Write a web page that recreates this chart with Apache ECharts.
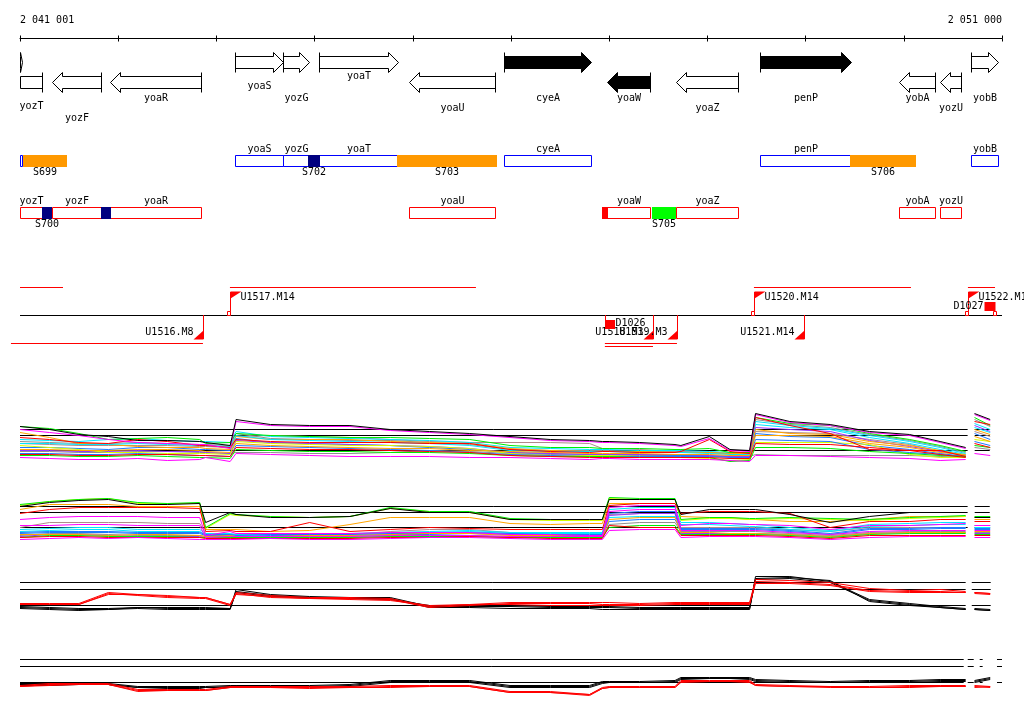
<!DOCTYPE html>
<html><head><meta charset="utf-8">
<script src="https://cdn.jsdelivr.net/npm/echarts@6.0.0/dist/echarts.min.js"></script>
<style>html,body{margin:0;padding:0;background:#fff}#c{width:1024px;height:714px}</style>
</head><body><div id="c"></div>
<script>
// ---------------- data ----------------
const viewMin = 2041000, viewMax = 2051000, rulerStep = 1000;
const rulerLabels = ['2 041 001', '2 051 000'];

// genes (arrows + boxes)
const geneNames  = ['', 'yozT', 'yozF', 'yoaR', 'yoaS', 'yozG', 'yoaT', 'yoaU', 'cyeA', 'yoaW', 'yoaZ', 'penP', 'yobA', 'yozU', 'yobB'];
const geneStart  = [2040900, 2040800, 2041326, 2041916, 2043189, 2043678, 2044045, 2044961, 2045929, 2046975, 2047680, 2048535, 2049951, 2050368, 2050684];
const geneEnd    = [2041020, 2041224, 2041825, 2042843, 2043678, 2043943, 2044849, 2045837, 2046815, 2047415, 2048311, 2049462, 2050317, 2050582, 2050959];
const geneStrand = [1, -1, -1, -1, 1, 1, 1, -1, 1, -1, -1, 1, -1, -1, 1];
const geneHighlighted = [0, 0, 0, 0, 0, 0, 0, 0, 1, 1, 0, 1, 0, 0, 0];

// segment features
const featNames  = ['S699', 'S700', '', 'S702', 'S703', '', 'S705', 'S706'];
const featStart  = [2041031, 2041224, 2041825, 2043932, 2044838, 2046925, 2047434, 2049449];
const featEnd    = [2041478, 2041326, 2041926, 2044054, 2045856, 2046985, 2047678, 2050121];
const featStrand = [1, -1, -1, 1, 1, -1, -1, 1];
const featClass  = ['A', 'B', 'B', 'B', 'A', 'C', 'D', 'A'];

// transcription units
const spanStart  = [2041000, 2043138, 2048474, 2050653, 2040908, 2046956, 2046956];
const spanEnd    = [2041438, 2045643, 2050073, 2050929, 2042863, 2047690, 2047446];
const spanStrand = [1, 1, 1, 1, -1, -1, -1];
const promNames  = ['U1516.M8', 'U1517.M14', 'U1518.M3', 'U1519.M3', 'U1520.M14', 'U1521.M14', 'U1522.M14'];
const promPos    = [2042863, 2043138, 2047446, 2047690, 2048474, 2048983, 2050653];
const promStrand = [-1, 1, -1, -1, 1, -1, 1];
const termNames  = ['D1026', 'D1027'];
const termPos    = [2046956, 2050929];
const termStrand = [-1, 1];

// expression profiles (probe positions; null = no data)
const probePos = [2041000,2041300,2041600,2041900,2042200,2042500,2042830,2042890,2043140,2043200,2043550,2043950,2044360,2044770,2045170,2045580,2045990,2046400,2046800,2046930,2047000,2047310,2047670,2047730,2048020,2048230,2048430,2048490,2048840,2049250,2049650,2050060,2050370,2050630,2050680,2050720,2050880];

// panel 1 (forward strand, many conditions)
const p1Ref = [40, 34, 19];
const p1Black    = [43,40,35,33,29,29,28,27,24,50,45,44,44,40,38,36,33,30,29,28,28,27,25,24,33,20,19,56,48,45,38,35,28,22,null,56,50];
const p1Magenta  = [40,37,34,30,27,26,25,25,21,48,44,43,43,39,37,35,32,29,28,27,27,26,24,23,31,19,18,55,47,44,37,34,27,21,null,55,49];
const p1Green    = [43,41,36,30,31,32,30,26,27,36,34,33,32,32,31,30,24,22,22,21,21,21,20,20,21,17,17,52,46,44,36,30,24,18,null,52,44];
const p1Cyan     = [30,29,28,30,31,29,28,28,27,38,33,32,31,30,29,27,22,21,20,20,20,19,19,19,18,17,16,45,42,40,32,26,20,15,null,46,40];
const p1Orange   = [37,32,26,25,23,22,22,21,20,33,30,30,30,28,27,26,21,19,18,18,18,18,17,17,17,16,16,40,36,35,28,24,19,14,null,40,35];
const p1Red      = [32,30,27,26,30,28,24,24,22,30,28,27,27,27,26,26,20,18,17,18,18,17,17,18,30,18,16,52,44,36,20,19,19,13,null,48,45];
const p1Blue     = [22,22,21,20,22,22,20,20,19,31,27,26,25,24,22,20,17,16,15,15,15,15,14,14,14,13,13,36,33,32,24,20,16,13,null,36,30];
const p1Gray     = [18,18,17,17,18,18,17,17,16,17,17,16,16,17,19,18,16,15,14,14,14,14,14,14,13,13,13,15,14,14,14,14,13,12,null,22,20];
const p1Yellow   = [24,22,20,17,17,16,16,16,15,28,26,25,24,24,23,21,16,14,14,14,14,13,13,12,11,9,10,27,27,27,25,15,12,12,null,30,28];
const p1Brown    = [26,25,24,24,24,24,23,23,22,33,34,33,32,30,28,27,27,27,26,21,21,20,18,18,17,16,15,38,37,36,30,25,18,14,null,38,33];
const p1Magenta2 = [12,11,10,10,11,9,10,12,8,16,15,14,13,13,13,12,12,11,10,11,11,10,10,10,10,9,8,14,14,13,12,11,9,10,null,16,14];
const p1Green2   = [14,14,13,13,14,13,12,12,11,20,19,18,18,17,17,16,14,13,13,13,13,12,12,12,12,8,9,22,22,21,18,16,14,13,null,24,22];
const p1Blue2    = [16,16,15,15,16,15,14,14,13,24,23,22,21,20,19,17,15,14,13,13,13,13,13,13,13,12,12,30,29,28,20,17,15,13,null,28,24];
const p1Orange2  = [20,20,19,19,20,20,19,18,17,26,24,23,22,21,21,19,18,17,16,16,16,16,15,15,15,14,14,34,34,33,26,22,17,15,null,33,28];
const p1Cyan2    = [26,26,25,25,26,25,24,24,23,34,30,29,28,27,26,24,19,18,18,18,18,17,17,17,16,15,15,48,44,41,34,28,22,16,null,42,37];
const p1Red2     = [15,15,14,14,15,15,14,14,13,22,21,20,20,19,18,17,14,13,12,12,12,12,12,12,12,11,11,26,25,25,22,19,15,12,null,26,22];
const p1Purple   = [19,19,18,18,19,18,18,17,16,29,27,26,25,24,23,21,17,16,15,15,15,15,15,15,14,13,13,42,40,38,29,23,18,14,null,44,38];
const p1Gray2    = [28,27,26,26,27,26,25,25,24,36,31,30,29,29,27,25,20,19,19,19,19,18,18,18,17,16,16,50,45,42,35,29,23,17,null,50,43];

// panel 2 (reverse strand, many conditions)
const p2Ref = [43, 37, 22];
const p2Black    = [43,47,49,50,45,45,46,27,37,35,32,32,33,41,37,37,30,30,30,30,50,50,50,35,40,40,40,40,35,27,33,37,37,37,null,32,32];
const p2Green    = [45,48,50,51,47,46,47,22,36,35,33,32,33,42,38,38,31,30,30,30,52,51,51,30,32,32,31,31,32,31,30,32,33,34,null,33,33];
const p2Yellow   = [44,48,50,51,46,46,46,21,35,34,33,32,33,41,38,37,30,29,29,29,51,50,50,29,31,31,30,30,31,30,29,31,32,33,null,32,32];
const p2Orange   = [40,45,45,45,43,43,43,20,20,20,18,19,25,32,32,32,26,25,26,26,46,46,46,33,32,32,30,30,28,28,30,33,33,33,null,30,30];
const p2Red      = [36,40,42,42,42,42,41,18,19,18,18,27,18,20,22,21,20,20,20,20,44,46,46,36,38,38,38,38,36,22,28,28,30,30,null,28,28];
const p2Magenta  = [30,32,33,33,33,32,32,14,18,16,16,16,16,17,17,17,15,15,14,14,38,40,40,24,26,26,25,25,24,20,24,24,25,26,null,24,24];
const p2Brown    = [22,27,27,27,27,26,26,16,15,15,15,15,15,18,20,20,17,17,16,16,35,36,36,22,22,22,22,22,20,18,22,22,22,22,null,22,22];
const p2Cyan     = [18,19,20,20,18,18,18,15,15,14,15,15,15,16,17,18,16,16,16,16,32,33,33,25,25,24,23,23,20,18,23,24,25,25,null,22,22];
const p2Blue     = [16,17,17,17,16,16,16,14,14,13,14,14,14,15,15,16,15,14,14,14,28,30,30,20,20,20,20,20,18,15,20,20,21,21,null,20,20];
const p2Gray     = [14,16,16,15,14,14,14,13,13,13,13,13,13,14,14,14,13,13,13,13,25,27,27,18,18,18,18,18,16,14,17,18,18,18,null,17,17];
const p2Green2   = [12,14,14,13,13,13,12,12,12,12,12,12,12,13,13,13,12,12,12,12,22,24,24,15,15,15,15,15,14,12,15,16,16,16,null,15,15];
const p2Magenta2 = [10,11,12,11,12,11,10,10,10,10,11,10,10,11,12,12,11,10,10,10,19,20,20,12,13,13,13,13,12,10,12,13,13,13,null,12,12];
const p2Red2     = [12,13,13,12,12,12,12,11,11,11,11,11,11,12,12,13,12,11,11,11,24,22,22,14,14,14,14,14,13,11,14,14,14,14,null,14,14];
const p2Orange2  = [15,15,15,14,15,15,14,13,14,13,13,14,14,15,16,16,14,14,13,13,30,32,32,17,17,16,16,16,15,13,16,17,17,17,null,18,18];
const p2Cyan2    = [20,21,22,22,20,20,20,16,16,15,16,16,16,17,18,19,17,17,17,17,40,42,42,27,27,26,25,25,22,19,25,26,27,27,null,24,24];
const p2Purple   = [13,15,15,14,13,13,13,12,12,12,12,12,12,13,13,14,12,12,12,12,34,36,36,16,16,16,16,16,15,13,16,17,17,17,null,16,16];
const p2Magenta3 = [24,24,25,25,24,24,24,12,13,13,13,13,13,14,14,14,13,13,13,13,42,44,44,19,19,19,19,19,17,15,18,19,19,19,null,19,19];
const p2Blue2    = [17,18,18,18,17,17,17,15,15,14,15,15,15,16,16,17,16,15,15,15,36,38,38,21,21,21,21,21,19,16,21,21,22,22,null,21,21];

// panel 3 (forward strand, two groups)
const p3Ref = [37, 30, 14];
const p3Black1 = [13,12,11,11,12,12,12,12,11,30,25,23,22,22,13,13,13,12,12,12,12,11,11,11,11,11,11,43,43,38,20,16,13,11,null,11,10];
const p3Black2 = [11,10,9,10,11,10,10,10,10,28,24,22,21,21,12,12,11,11,11,10,10,10,10,10,10,10,10,41,42,39,18,14,12,10,null,10,9];
const p3Black3 = [12,11,10,10,12,11,11,11,11,27,23,22,21,20,14,14,14,13,13,13,13,12,12,12,12,12,12,40,41,37,19,15,12,10,null,10,9];
const p3Red1   = [16,16,16,27,25,23,22,22,15,27,24,22,22,21,13,15,17,17,17,17,17,16,17,17,17,17,17,40,39,37,31,29,30,28,null,27,26];
const p3Red2   = [15,15,15,26,24,22,21,21,14,25,23,21,21,20,12,14,16,16,16,15,15,15,16,16,16,16,16,38,37,35,29,28,28,27,null,26,25];
const p3Red3   = [16,15,15,25,25,24,22,22,15,26,22,21,20,19,14,15,15,14,14,14,14,14,15,15,15,15,15,36,36,34,28,27,27,27,null,27,26];

// panel 4 (reverse strand, two groups)
const p4Ref = [40, 33, 17];
const p4Black1 = [16,16,16,16,13,13,13,13,14,14,14,14,15,19,19,19,14,14,14,18,18,18,19,22,22,22,22,20,19,18,19,19,20,20,null,19,22];
const p4Black2 = [15,15,15,15,12,12,12,12,13,13,13,13,14,18,18,18,13,13,13,17,17,17,18,21,21,21,21,19,18,17,18,18,19,19,null,18,21];
const p4Black3 = [14,14,15,15,12,11,11,12,12,12,13,13,13,17,17,17,12,12,12,16,17,17,17,20,21,21,20,18,17,17,17,17,18,18,null,17,20];
const p4Red1   = [14,16,16,16,10,10,10,10,13,13,13,13,13,14,14,14,8,8,5,12,13,13,13,19,19,19,19,15,14,13,13,14,14,14,null,14,13];
const p4Red2   = [13,15,15,15,9,9,9,9,12,12,12,12,12,13,13,13,7,7,4,11,12,12,12,18,18,18,18,14,13,13,12,13,13,13,null,13,12];
const p4Red3   = [13,14,15,15,8,9,9,9,12,12,12,11,12,12,13,13,7,7,5,11,12,12,12,17,18,18,17,14,13,12,12,12,13,13,null,12,13];

// reference-line coverage per panel
const refSegP12 = [[2041000, 2050650], [2050722, 2050875]];
const refSegP3  = [[2041000, 2050630], [2050692, 2050885]];
const refSegP4  = [[2041000, 2050610], [2050651, 2050712], [2050773, 2050803], [2050949, 2051000]];

// ---------------- layout / style ----------------
const FONT = '10px "DejaVu Sans Mono", "Liberation Mono", monospace';
const geneLabelY = {yozT:106, yozF:118, yoaR:98, yoaS:86, yozG:98, yoaT:76, yoaU:108, cyeA:98, yoaW:98, yoaZ:108, penP:98, yobA:98, yozU:108, yobB:98};
const featColor = {A:'#ff9900', B:'#000080', C:'#ff0000', D:'#00ff00'};
const RED = '#ff0000';

function px(api, bp) { return api.coord([bp, 0])[0]; }
function crisp(v) { return Math.round(v) + 0.5; }
function txt(text, x, y, align) {
  return {type:'text', style:{text, x, y, font:FONT, fill:'#000', align:align||'center', verticalAlign:'middle', textAlign:align||'center', textVerticalAlign:'middle'}};
}

function renderGene(params, api) {
  const i = params.dataIndex;
  const L = px(api, viewMin), R = px(api, viewMax);
  const x0 = px(api, geneStart[i]), x1 = px(api, geneEnd[i]);
  const fwd = geneStrand[i] > 0;
  const c = fwd ? 62.5 : 82.5;
  const a = crisp(Math.max(x0, L)), b = crisp(Math.min(x1, R));
  const headIn = fwd ? x1 <= R : x0 >= L;
  const tailIn = fwd ? x0 >= L : x1 <= R;
  const bh = 6, hh = 10;
  let pts;
  if (!headIn) {
    pts = [[a, c - bh], [b, c - bh], [b, c + bh], [a, c + bh]];
  } else {
    const h = Math.min(10, b - a);
    if (fwd) pts = [[a,c-bh],[b-h,c-bh],[b-h,c-hh],[b,c],[b-h,c+hh],[b-h,c+bh],[a,c+bh]];
    else pts = [[b,c-bh],[a+h,c-bh],[a+h,c-hh],[a,c],[a+h,c+hh],[a+h,c+bh],[b,c+bh]];
  }
  const children = [{type:'polygon', shape:{points:pts}, style:{fill: geneHighlighted[i] ? '#000' : '#fff', stroke:'#000', lineWidth:1}}];
  if (tailIn) {
    const t = fwd ? a : b;
    children.push({type:'line', shape:{x1:t, y1:c - hh, x2:t, y2:c + hh}, style:{stroke:'#000', lineWidth:1}});
  }
  if (geneNames[i]) children.push(txt(geneNames[i], (a + b) / 2, geneLabelY[geneNames[i]]));
  return {type:'group', children};
}

function renderGeneBox(params, api) {
  const i = params.dataIndex;
  const L = px(api, viewMin), R = px(api, viewMax);
  const fwd = geneStrand[i] > 0;
  const a = crisp(Math.max(px(api, geneStart[i]), L)), b = crisp(Math.min(px(api, geneEnd[i]), R));
  const y = fwd ? 155.5 : 207.5;
  const children = [{type:'rect', shape:{x:a, y, width:b - a, height:11}, style:{fill:'#fff', stroke: fwd ? '#0000ff' : RED, lineWidth:1}}];
  if (geneNames[i]) children.push(txt(geneNames[i], (a + b) / 2, fwd ? 149 : 201));
  return {type:'group', children};
}

function renderFeature(params, api) {
  const i = params.dataIndex;
  const fwd = featStrand[i] > 0;
  const a = Math.round(px(api, featStart[i])), b = Math.round(px(api, featEnd[i]));
  const y = fwd ? 155 : 207;
  const children = [{type:'rect', shape:{x:a, y, width:b - a, height:12}, style:{fill: featColor[featClass[i]]}}];
  if (featNames[i]) children.push(txt(featNames[i], (a + b) / 2, fwd ? 172 : 224));
  return {type:'group', children};
}

// stacking level of TU spans
const spanLevel = (function () {
  const order = spanStart.map((s, i) => i).sort((p, q) => (spanStart[p] - spanStart[q]) || ((spanEnd[q] - spanStart[q]) - (spanEnd[p] - spanStart[p])));
  const lv = new Array(spanStart.length).fill(0);
  const used = {};
  order.forEach(i => {
    const key = spanStrand[i];
    used[key] = used[key] || [];
    let l = 0;
    while ((used[key][l] || []).some(j => spanStart[j] < spanEnd[i] && spanStart[i] < spanEnd[j])) l++;
    (used[key][l] = used[key][l] || []).push(i);
    lv[i] = l;
  });
  return lv;
})();

function renderSpan(params, api) {
  const i = params.dataIndex;
  const fwd = spanStrand[i] > 0;
  const y = fwd ? 287.5 : 343.5 + spanLevel[i] * 3;
  return {type:'line', shape:{x1:px(api, spanStart[i]), y1:y, x2:px(api, spanEnd[i]), y2:y}, style:{stroke:RED, lineWidth:1}};
}

function renderAxisLine(params, api) {
  return {type:'line', shape:{x1:px(api, viewMin), y1:315.5, x2:px(api, viewMax), y2:315.5}, style:{stroke:'#000', lineWidth:1}};
}

function renderPromoter(params, api) {
  const i = params.dataIndex;
  const x = crisp(px(api, promPos[i]));
  if (promStrand[i] > 0) {
    return {type:'group', children:[
      {type:'line', shape:{x1:x, y1:292, x2:x, y2:315}, style:{stroke:RED, lineWidth:1}},
      {type:'polygon', shape:{points:[[x, 291.5], [x + 11, 291.5], [x, 298.5]]}, style:{fill:RED}},
      {type:'rect', shape:{x:x - 3, y:311.5, width:3, height:4}, style:{fill:'#fff', stroke:RED, lineWidth:1}},
      txt(promNames[i], x + 10, 297.5, 'left')
    ]};
  }
  return {type:'group', children:[
    {type:'line', shape:{x1:x, y1:315, x2:x, y2:339}, style:{stroke:RED, lineWidth:1}},
    {type:'polygon', shape:{points:[[x, 330.5], [x, 339.5], [x - 10, 339.5]]}, style:{fill:RED}},
    txt(promNames[i], x - 10, 332.5, 'right')
  ]};
}

function renderTerminator(params, api) {
  const i = params.dataIndex;
  const x = crisp(px(api, termPos[i]));
  if (termStrand[i] > 0) {
    return {type:'group', children:[
      {type:'rect', shape:{x:x - 11, y:302, width:11, height:9}, style:{fill:RED}},
      {type:'rect', shape:{x:x - 2, y:311.5, width:3, height:4}, style:{fill:'#fff', stroke:RED, lineWidth:1}},
      txt(termNames[i], x - 12, 306, 'right')
    ]};
  }
  return {type:'group', children:[
    {type:'line', shape:{x1:x, y1:315, x2:x, y2:320}, style:{stroke:RED, lineWidth:1}},
    {type:'rect', shape:{x:x - 0.5, y:320, width:10, height:9}, style:{fill:RED}},
    txt(termNames[i], x + 10, 323.5, 'left')
  ]};
}

function customSeries(name, n, render, z) {
  const data = [];
  for (let i = 0; i < n; i++) data.push([viewMin, 0]);
  return {type:'custom', name, xAxisIndex:0, yAxisIndex:0, data, renderItem:render, silent:true, animation:false, clip:false, z};
}

function profile(k, arr, color, z) {
  return {type:'line', xAxisIndex:k + 1, yAxisIndex:k, data: probePos.map((p, j) => [p, arr[j]]),
    showSymbol:false, symbol:'none', connectNulls:false, silent:true, animation:false,
    lineStyle:{width:1, color}, z: z || 3};
}
function refLines(k, levels, segs) {
  return levels.map(v => ({type:'line', xAxisIndex:k + 1, yAxisIndex:k,
    data: segs.flatMap(s => [[s[0], v], [s[1], v], [s[1], null]]),
    showSymbol:false, symbol:'none', connectNulls:false, silent:true, animation:false,
    lineStyle:{width:1, color:'#000'}, z:2}));
}

const C = {magenta:'#ff00ff', green:'#00ee00', cyan:'#00e5ff', orange:'#ffa500', red:'#ff0000', blue:'#1e78ff',
  gray:'#909090', yellow:'#d4ff00', brown:'#b08a8a', purple:'#9933ff', black:'#000000'};

const panelTops = [404.5, 489.5, 569.5, 649.5];
const panelHeights = [65, 60, 50, 50];

const grids = [{left:20, right:22, top:38.5, height:320}];
const xAxes = [{
  gridIndex:0, type:'value', position:'top', min:viewMin, max:viewMax, interval:rulerStep,
  axisLine:{show:true, onZero:false, lineStyle:{color:'#000', width:1}},
  axisTick:{show:true, length:3, lineStyle:{color:'#000'}},
  splitLine:{show:false},
  axisLabel:{show:true, margin:13, color:'#000', fontFamily:'"DejaVu Sans Mono"', fontSize:10,
    alignMinLabel:'left', alignMaxLabel:'right',
    formatter: v => v === viewMin ? rulerLabels[0] : (v === viewMax ? rulerLabels[1] : '')}
}, {
  // downward half of the ruler ticks
  gridIndex:0, type:'value', position:'top', min:viewMin, max:viewMax, interval:rulerStep,
  axisLine:{show:false, onZero:false},
  axisTick:{show:true, inside:true, length:3, lineStyle:{color:'#000'}},
  axisLabel:{show:false}, splitLine:{show:false}
}];
const yAxes = [{gridIndex:0, type:'value', min:0, max:1, show:false}];
panelTops.forEach((t, k) => {
  grids.push({left:20, right:22, top:t, height:panelHeights[k]});
  xAxes.push({gridIndex:k + 1, type:'value', min:viewMin, max:viewMax, show:false});
  yAxes.push({gridIndex:k + 1, type:'value', min:0, max:panelHeights[k], show:false});
});

const series = [
  customSeries('genes', geneNames.length, renderGene, 5),
  customSeries('geneBoxes', geneNames.length, renderGeneBox, 5),
  customSeries('features', featNames.length, renderFeature, 6),
  customSeries('tuAxis', 1, renderAxisLine, 5),
  customSeries('tuSpans', spanStart.length, renderSpan, 6),
  customSeries('promoters', promNames.length, renderPromoter, 7),
  customSeries('terminators', termNames.length, renderTerminator, 7),
  ...refLines(1, p1Ref, refSegP12),
  profile(1, p1Gray, C.gray), profile(1, p1Gray2, C.gray), profile(1, p1Brown, C.brown), profile(1, p1Cyan, C.cyan),
  profile(1, p1Blue, C.blue), profile(1, p1Purple, C.purple), profile(1, p1Orange, C.orange), profile(1, p1Yellow, C.yellow),
  profile(1, p1Green, C.green), profile(1, p1Blue2, C.blue), profile(1, p1Cyan2, C.cyan), profile(1, p1Orange2, C.orange),
  profile(1, p1Green2, C.green), profile(1, p1Red2, C.red), profile(1, p1Red, C.red), profile(1, p1Magenta2, C.magenta),
  profile(1, p1Magenta, C.magenta), profile(1, p1Black, C.black, 4),
  ...refLines(2, p2Ref, refSegP12),
  profile(2, p2Gray, C.gray), profile(2, p2Brown, C.brown), profile(2, p2Cyan, C.cyan), profile(2, p2Blue, C.blue),
  profile(2, p2Purple, C.purple), profile(2, p2Cyan2, C.cyan), profile(2, p2Blue2, C.blue),
  profile(2, p2Orange2, C.orange), profile(2, p2Green2, C.green), profile(2, p2Red2, C.red), profile(2, p2Orange, C.orange),
  profile(2, p2Yellow, C.yellow), profile(2, p2Green, C.green), profile(2, p2Red, C.red), profile(2, p2Magenta2, C.magenta),
  profile(2, p2Magenta3, C.magenta), profile(2, p2Magenta, C.magenta), profile(2, p2Black, C.black, 4),
  ...refLines(3, p3Ref, refSegP3),
  profile(3, p3Black1, C.black), profile(3, p3Black2, C.black), profile(3, p3Black3, C.black),
  profile(3, p3Red1, C.red), profile(3, p3Red2, C.red), profile(3, p3Red3, C.red),
  ...refLines(4, p4Ref, refSegP4),
  profile(4, p4Black1, C.black), profile(4, p4Black2, C.black), profile(4, p4Black3, C.black),
  profile(4, p4Red1, C.red), profile(4, p4Red2, C.red), profile(4, p4Red3, C.red)
];

const chart = echarts.init(document.getElementById('c'), null, {renderer:'canvas'});
chart.setOption({
  backgroundColor:'#ffffff',
  animation:false,
  textStyle:{fontFamily:'"DejaVu Sans Mono"'},
  grid: grids, xAxis: xAxes, yAxis: yAxes, series
});
</script>
</body></html>
